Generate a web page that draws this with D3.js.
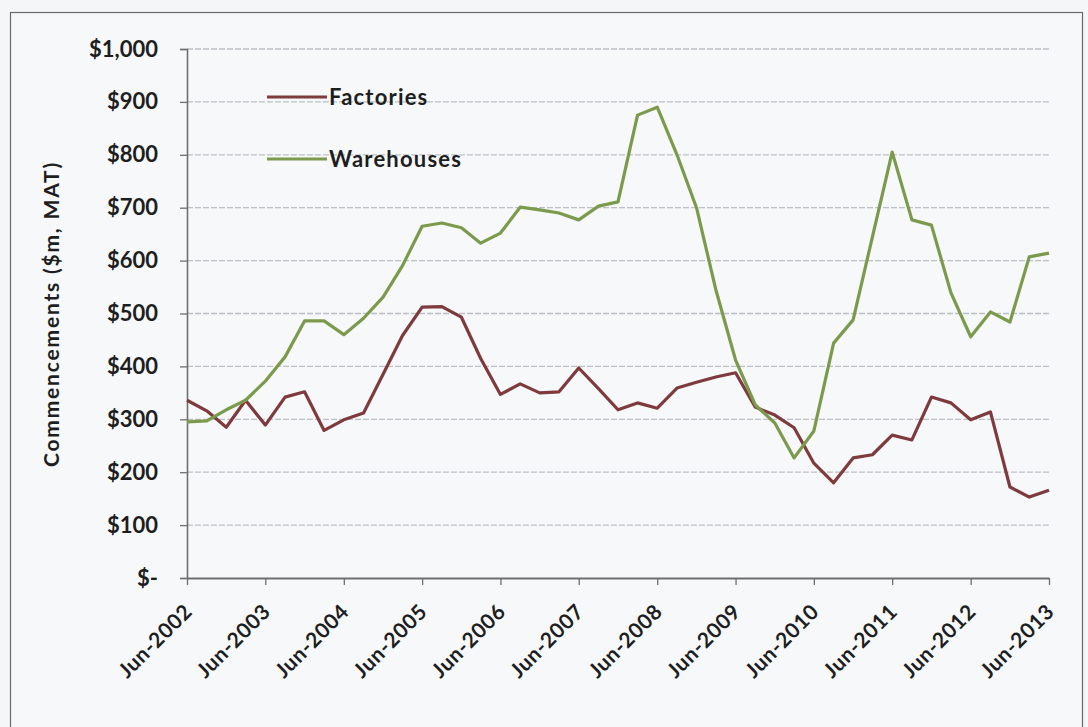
<!DOCTYPE html>
<html>
<head>
<meta charset="utf-8">
<script src="https://cdn.jsdelivr.net/npm/d3@7"></script>
<style>
  html, body { margin: 0; padding: 0; background: #f4f6f8; }
  svg { display: block; }
  text { font-family: Lato, "Open Sans", sans-serif; fill: #1e1e1e; }
</style>
</head>
<body>
<svg id="chart" width="1088" height="727"></svg>
<script>
// Quarterly periods, Jun-2002 to Jun-2013
const quarters = [
  "2002-06","2002-09","2002-12","2003-03","2003-06","2003-09","2003-12","2004-03",
  "2004-06","2004-09","2004-12","2005-03","2005-06","2005-09","2005-12","2006-03",
  "2006-06","2006-09","2006-12","2007-03","2007-06","2007-09","2007-12","2008-03",
  "2008-06","2008-09","2008-12","2009-03","2009-06","2009-09","2009-12","2010-03",
  "2010-06","2010-09","2010-12","2011-03","2011-06","2011-09","2011-12","2012-03",
  "2012-06","2012-09","2012-12","2013-03","2013-06"
];

// Commencements, $m moving annual total
const factories = [
  336, 316, 285, 336, 289, 342, 352, 279,
  299, 312, 385, 458, 512, 513, 493, 415,
  347, 367, 350, 352, 397, 358, 318, 331,
  321, 359, 370, 380, 388, 323, 308, 284,
  217, 180, 227, 233, 270, 261, 342, 331,
  299, 314, 172, 153, 166
];

const warehouses = [
  295, 297, 318, 336, 372, 418, 486, 486,
  460, 491, 531, 590, 665, 671, 662, 633,
  652, 701, 696, 690, 677, 703, 711, 875,
  890, 800, 700, 545, 412, 327, 293, 227,
  278, 444, 488, 645, 805, 677, 667, 539,
  456, 503, 484, 607, 614
];

const yTicks = [0, 100, 200, 300, 400, 500, 600, 700, 800, 900, 1000];
const xTickLabels = ["Jun-2002","Jun-2003","Jun-2004","Jun-2005","Jun-2006","Jun-2007",
  "Jun-2008","Jun-2009","Jun-2010","Jun-2011","Jun-2012","Jun-2013"];

const seriesNames = ["Factories", "Warehouses"];
const seriesColors = ["#7e3a3c", "#7b9a4c"];

const svg = d3.select("#chart");

// chart area frame
svg.append("rect")
  .attr("x", 10.5).attr("y", 12.5)
  .attr("width", 1072).attr("height", 730)
  .attr("fill", "#f6f8fa")
  .attr("stroke", "#6a6a6a").attr("stroke-width", 1.2);

const plot = { left: 187, right: 1049, top: 49, bottom: 578 };

const parse = d3.timeParse("%Y-%m");
const dates = quarters.map(parse);

const x = d3.scaleTime()
  .domain([parse("2002-06"), parse("2013-06")])
  .range([plot.left, plot.right]);

const y = d3.scaleLinear()
  .domain([0, 1000])
  .range([plot.bottom, plot.top]);

const fmt = v => v === 0 ? "$-" : "$" + d3.format(",")(v);

// horizontal gridlines
svg.append("g")
  .selectAll("line")
  .data(yTicks.filter(d => d > 0))
  .join("line")
  .attr("x1", plot.left).attr("x2", plot.right)
  .attr("y1", d => y(d)).attr("y2", d => y(d))
  .attr("stroke", "#bcc0c6").attr("stroke-width", 1.3)
  .attr("stroke-dasharray", "6 2");

// y axis
const yAxis = d3.axisLeft(y)
  .tickValues(yTicks)
  .tickFormat(fmt)
  .tickSize(7)
  .tickPadding(22);

const gy = svg.append("g")
  .attr("transform", `translate(${plot.left},0)`)
  .call(yAxis);
gy.select(".domain").attr("stroke", "#6f6f6f").attr("stroke-width", 1.6);
gy.selectAll(".tick line").attr("stroke", "#6f6f6f").attr("stroke-width", 1.3);
gy.selectAll(".tick text")
  .attr("font-size", 22).attr("font-weight", 700).attr("fill", "#1e1e1e");

// x axis, yearly ticks
const xTickDates = xTickLabels.map(s => d3.timeParse("%b-%Y")(s));
const xAxis = d3.axisBottom(x)
  .tickValues(xTickDates)
  .tickFormat((d, i) => xTickLabels[i])
  .tickSize(7)
  .tickSizeOuter(0);

const gx = svg.append("g")
  .attr("transform", `translate(0,${plot.bottom})`)
  .call(xAxis);
gx.select(".domain").attr("stroke", "#6f6f6f").attr("stroke-width", 1.8);
gx.selectAll(".tick line").attr("stroke", "#6f6f6f").attr("stroke-width", 1.3);
gx.selectAll(".tick text")
  .attr("font-size", 21).attr("font-weight", 700).attr("fill", "#1e1e1e")
  .attr("text-anchor", "end")
  .attr("x", 0).attr("y", 0).attr("dy", 0)
  .attr("letter-spacing", 0.6)
  .attr("transform", "translate(6,35) rotate(-45)");

// y axis title
svg.append("text")
  .attr("transform", "translate(59,314) rotate(-90)")
  .attr("text-anchor", "middle")
  .attr("font-size", 21).attr("font-weight", 700)
  .attr("letter-spacing", 1.8)
  .text("Commencements ($m, MAT)");

// series lines
const line = d3.line()
  .x((d, i) => x(dates[i]))
  .y(d => y(d));

[factories, warehouses].forEach((vals, k) => {
  svg.append("path")
    .datum(vals)
    .attr("fill", "none")
    .attr("stroke", seriesColors[k])
    .attr("stroke-width", 3.2)
    .attr("stroke-linejoin", "round")
    .attr("d", line);
});

// legend
const legend = svg.append("g");
seriesNames.forEach((name, k) => {
  const ly = 97 + k * 62;
  legend.append("line")
    .attr("x1", 267).attr("x2", 327)
    .attr("y1", ly).attr("y2", ly)
    .attr("stroke", seriesColors[k]).attr("stroke-width", 3.2);
  legend.append("text")
    .attr("x", 329).attr("y", ly + 8)
    .attr("font-size", 22).attr("font-weight", 700)
    .attr("letter-spacing", 1.2)
    .text(name);
});
</script>
</body>
</html>
